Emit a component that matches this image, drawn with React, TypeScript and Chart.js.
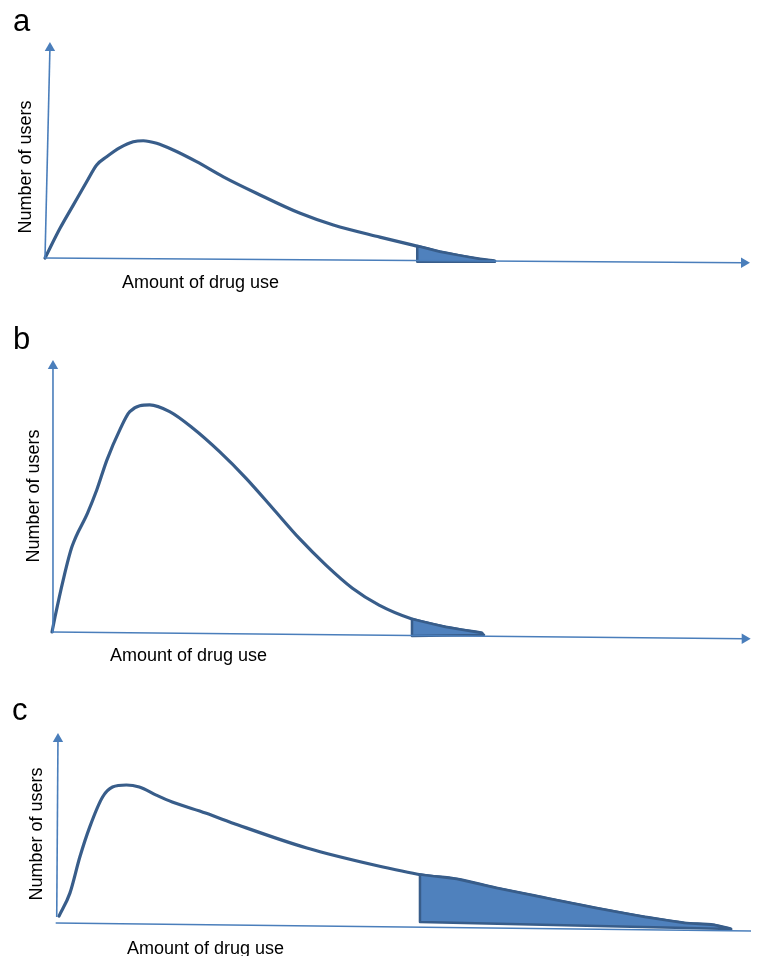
import React, { useEffect, useRef } from "react";
import { Chart, registerables } from "chart.js";

Chart.register(...registerables);

type Pt = { x: number; y: number };

// ---------- Panel a ----------
const curveA: Pt[] = [
  { x: 0, y: 0 }, { x: 2.13, y: 13.75 }, { x: 4.01, y: 24.5 }, { x: 5.91, y: 35.3 },
  { x: 7.33, y: 43.1 }, { x: 8.75, y: 46.9 }, { x: 10.64, y: 51.1 }, { x: 12.52, y: 53.8 },
  { x: 13.94, y: 54.3 }, { x: 15.84, y: 53.1 }, { x: 18.2, y: 50.0 }, { x: 21.5, y: 44.6 },
  { x: 25.3, y: 37.6 }, { x: 30.0, y: 30.0 }, { x: 36.2, y: 20.7 }, { x: 40.9, y: 15.3 },
  { x: 47.5, y: 9.7 }, { x: 52.2, y: 6.0 }, { x: 56.0, y: 2.9 }, { x: 61.7, y: -0.5 },
  { x: 63.8, y: -1.4 },
];
const tailA: Pt[] = [
  { x: 52.8, y: 5.6 }, { x: 56.0, y: 2.9 }, { x: 61.7, y: -0.5 }, { x: 63.8, y: -1.4 },
  { x: 63.8, y: -1.7 }, { x: 52.8, y: -1.7 }, { x: 52.8, y: 5.6 },
];
const yAxisA: Pt[] = [{ x: 0, y: 0 }, { x: 0.7, y: 97.2 }];
const xAxisA: Pt[] = [{ x: 0, y: 0 }, { x: 99.15, y: -2.2 }];

// ---------- Panel b ----------
const curveB: Pt[] = [
  { x: 0, y: 0 }, { x: 0.43, y: 5.5 }, { x: 1.6, y: 19.1 }, { x: 2.85, y: 31.3 },
  { x: 5.1, y: 43.8 }, { x: 6.4, y: 52.2 }, { x: 7.85, y: 63.2 }, { x: 9.7, y: 74.3 },
  { x: 11.13, y: 81.0 }, { x: 13.98, y: 83.5 }, { x: 16.83, y: 81.0 }, { x: 20.16, y: 74.9 },
  { x: 23.97, y: 66.3 }, { x: 27.77, y: 56.5 }, { x: 31.57, y: 45.5 }, { x: 35.38, y: 34.4 },
  { x: 39.19, y: 24.6 }, { x: 42.98, y: 16.1 }, { x: 46.79, y: 9.9 }, { x: 51.5, y: 4.8 },
  { x: 56.3, y: 1.8 }, { x: 61.5, y: -0.4 },
];
const tailB: Pt[] = [
  { x: 51.5, y: 4.8 }, { x: 56.3, y: 1.8 }, { x: 61.5, y: -0.4 }, { x: 61.8, y: -1.1 },
  { x: 51.5, y: -1.5 }, { x: 51.5, y: 4.8 },
];
const yAxisB: Pt[] = [{ x: 0, y: 0 }, { x: 0.14, y: 97.8 }];
const xAxisB: Pt[] = [{ x: 0, y: 0 }, { x: 99.1, y: -2.5 }];

// ---------- Panel c ----------
const curveC: Pt[] = [
  { x: 0.29, y: 2.1 }, { x: 1.86, y: 14.4 }, { x: 3.29, y: 33.7 }, { x: 4.71, y: 49.7 },
  { x: 6.57, y: 65.8 }, { x: 8.0, y: 71.1 }, { x: 10.0, y: 72.2 }, { x: 11.86, y: 71.1 },
  { x: 14.3, y: 66.8 }, { x: 16.6, y: 63.1 }, { x: 21.4, y: 57.2 }, { x: 26.1, y: 50.8 },
  { x: 36.0, y: 38.5 }, { x: 45.7, y: 29.4 }, { x: 52.6, y: 24.1 }, { x: 57.6, y: 21.9 },
  { x: 63.3, y: 17.1 }, { x: 70.4, y: 11.8 }, { x: 77.6, y: 6.4 }, { x: 84.7, y: 1.6 },
  { x: 90.4, y: -1.6 }, { x: 94.7, y: -2.7 }, { x: 97.1, y: -4.8 },
];
const tailC: Pt[] = [
  { x: 52.3, y: 24.3 }, { x: 57.6, y: 21.9 }, { x: 63.3, y: 17.1 }, { x: 70.4, y: 11.8 },
  { x: 77.6, y: 6.4 }, { x: 84.7, y: 1.6 }, { x: 90.4, y: -1.6 }, { x: 94.7, y: -2.7 },
  { x: 97.1, y: -4.8 }, { x: 52.3, y: -1.1 }, { x: 52.3, y: 24.3 },
];
const yAxisC: Pt[] = [{ x: -0.04, y: 1.6 }, { x: 0.14, y: 96.8 }];
const xAxisC: Pt[] = [{ x: -0.19, y: -1.6 }, { x: 100, y: -5.9 }];

const panelLetters = ["a", "b", "c"];
const yTitle = "Number of users";
const xTitle = "Amount of drug use";

const AXIS = "#4a7ebb";
const LINE = "#385d8a";
const FILL = "#4f81bd";
const FONT = '"Liberation Sans", Arial, Helvetica, sans-serif';

type PanelProps = {
  top: number;
  height: number;
  pad: { top: number; bottom: number; left: number; right: number };
  yMin: number;
  curve: Pt[];
  tail: Pt[];
  yAxis: Pt[];
  xAxis: Pt[];
  xArrow: boolean;
};

function Panel({ top, height, pad, yMin, curve, tail, yAxis, xAxis, xArrow }: PanelProps) {
  const ref = useRef<HTMLCanvasElement>(null);
  useEffect(() => {
    const chart = new Chart(ref.current as HTMLCanvasElement, {
      type: "line",
      data: {
        datasets: [
          {
            data: yAxis,
            borderColor: AXIS,
            borderWidth: 1.6,
            pointStyle: "triangle",
            pointRadius: [0, 6],
            pointBackgroundColor: AXIS,
            pointBorderColor: AXIS,
            pointBorderWidth: 0,
            pointRotation: 0,
            fill: false,
            clip: false,
          } as any,
          {
            data: xAxis,
            borderColor: AXIS,
            borderWidth: 1.6,
            pointStyle: "triangle",
            pointRadius: xArrow ? [0, 6] : 0,
            pointBackgroundColor: AXIS,
            pointBorderColor: AXIS,
            pointBorderWidth: 0,
            pointRotation: 90,
            fill: false,
            clip: false,
          } as any,
          {
            data: tail,
            borderColor: LINE,
            backgroundColor: FILL,
            borderWidth: 2.5,
            fill: "shape",
            tension: 0,
            pointRadius: 0,
            borderJoinStyle: "round",
            clip: false,
          } as any,
          {
            data: curve,
            borderColor: LINE,
            borderWidth: 3.2,
            cubicInterpolationMode: "monotone",
            pointRadius: 0,
            fill: false,
            borderCapStyle: "round",
            borderJoinStyle: "round",
            clip: false,
          } as any,
        ],
      },
      options: {
        animation: false,
        responsive: false,
        events: [],
        layout: { padding: pad },
        plugins: { legend: { display: false }, tooltip: { enabled: false }, title: { display: false } },
        scales: {
          x: { type: "linear", min: 0, max: 100, display: false },
          y: { type: "linear", min: yMin, max: 100, display: false },
        },
      },
    });
    return () => chart.destroy();
  }, []);
  return (
    <canvas
      ref={ref}
      width={757}
      height={height}
      style={{ position: "absolute", left: 0, top, width: 757, height, display: "block" }}
    />
  );
}

function Letter({ text, left, top }: { text: string; left: number; top: number }) {
  return (
    <div style={{ position: "absolute", left, top, fontFamily: FONT, fontSize: 31, lineHeight: "31px", color: "#000" }}>
      {text}
    </div>
  );
}

function XLabel({ left, top }: { left: number; top: number }) {
  return (
    <div style={{ position: "absolute", left, top, fontFamily: FONT, fontSize: 18, lineHeight: "18px", color: "#000", whiteSpace: "nowrap" }}>
      {xTitle}
    </div>
  );
}

function YLabel({ cx, cy }: { cx: number; cy: number }) {
  return (
    <div
      style={{
        position: "absolute",
        left: cx,
        top: cy,
        transform: "translate(-50%, -50%) rotate(-90deg)",
        fontFamily: FONT,
        fontSize: 18,
        lineHeight: "18px",
        color: "#000",
        whiteSpace: "nowrap",
      }}
    >
      {yTitle}
    </div>
  );
}

export default function App() {
  return (
    <div style={{ position: "absolute", left: 0, top: 0, width: 757, height: 956, overflow: "hidden", background: "#fff" }}>
      <Panel
        top={0}
        height={300}
        pad={{ top: 42, bottom: 29, left: 45, right: 7 }}
        yMin={-6}
        curve={curveA}
        tail={tailA}
        yAxis={yAxisA}
        xAxis={xAxisA}
        xArrow={true}
      />
      <Panel
        top={300}
        height={360}
        pad={{ top: 60, bottom: 11.7, left: 52, right: 4 }}
        yMin={-6}
        curve={curveB}
        tail={tailB}
        yAxis={yAxisB}
        xAxis={xAxisB}
        xArrow={true}
      />
      <Panel
        top={660}
        height={296}
        pad={{ top: 73, bottom: 21, left: 57, right: 0 }}
        yMin={-8}
        curve={curveC}
        tail={tailC}
        yAxis={yAxisC}
        xAxis={xAxisC}
        xArrow={false}
      />
      <Letter text={panelLetters[0]} left={13} top={5} />
      <Letter text={panelLetters[1]} left={13} top={323} />
      <Letter text={panelLetters[2]} left={12} top={694} />
      <YLabel cx={25.3} cy={166.5} />
      <YLabel cx={33} cy={496} />
      <YLabel cx={36} cy={834} />
      <XLabel left={122} top={273} />
      <XLabel left={110} top={646} />
      <XLabel left={127} top={939} />
    </div>
  );
}
